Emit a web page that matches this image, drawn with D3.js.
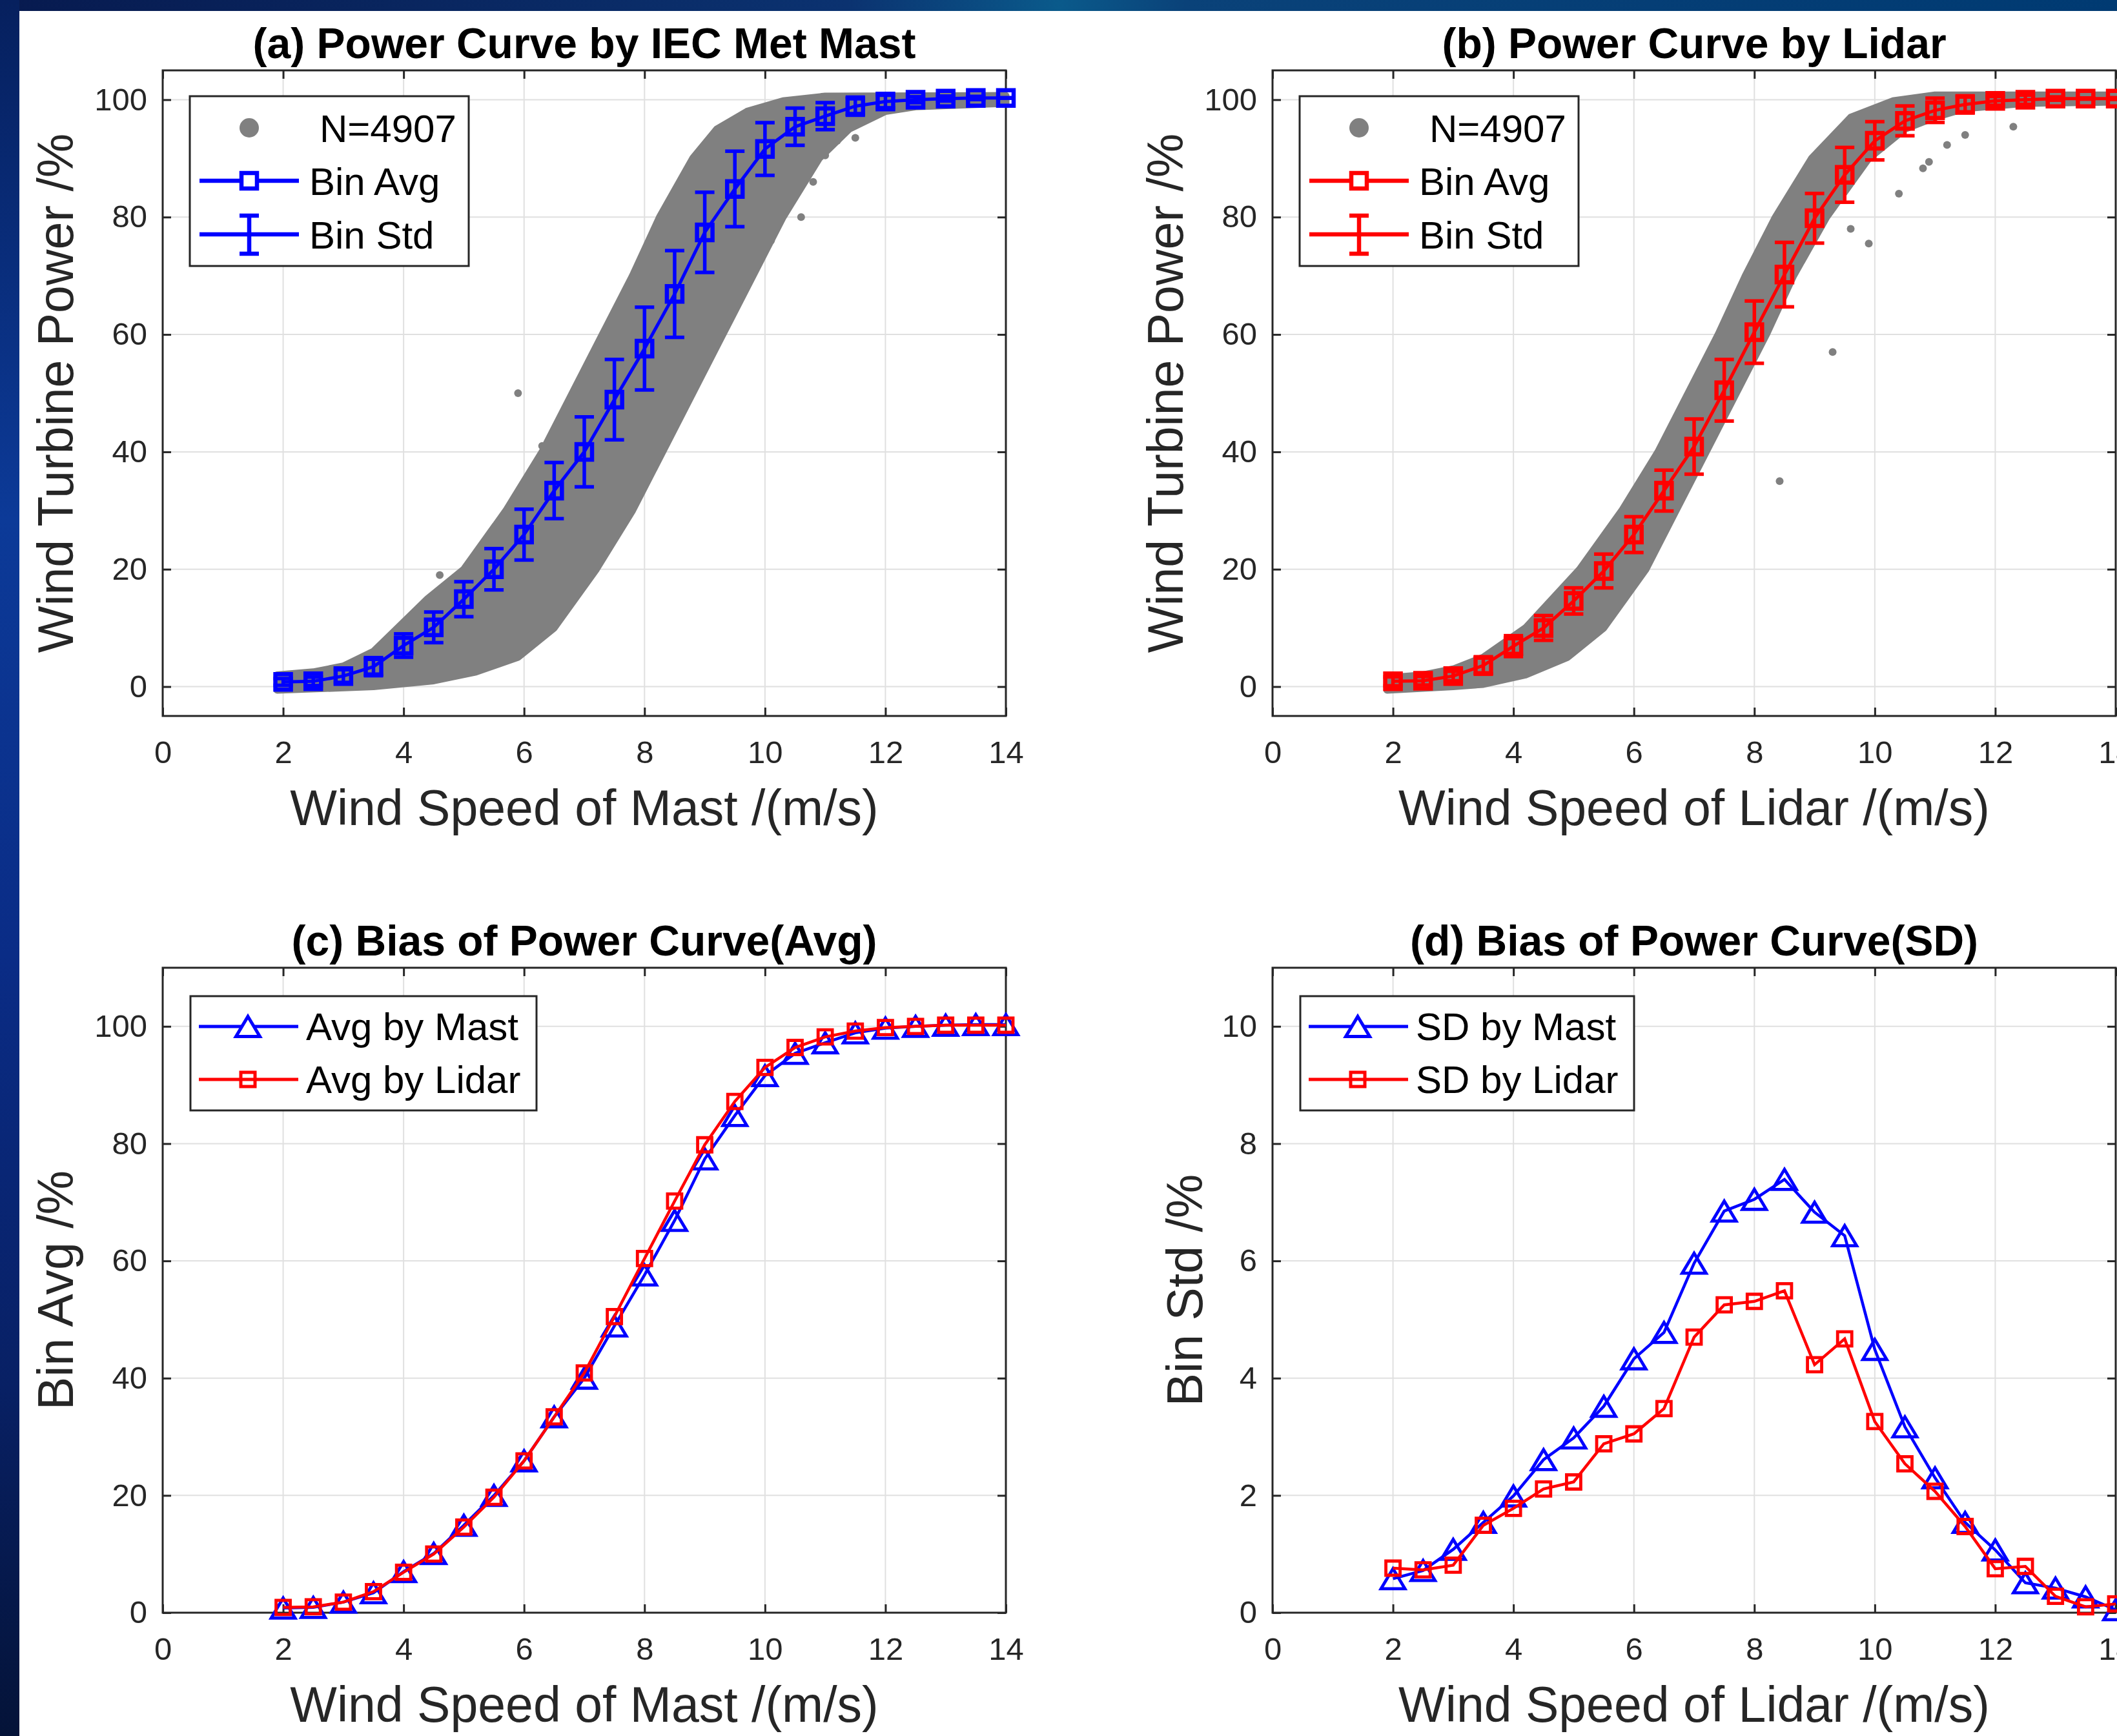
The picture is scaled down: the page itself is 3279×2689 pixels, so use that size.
<!DOCTYPE html>
<html><head><meta charset="utf-8">
<script src="https://cdn.jsdelivr.net/npm/d3@7"></script>
<style>
body{margin:0;background:#fff}
svg{display:block}
text{font-family:"Liberation Sans",Arial,Helvetica,sans-serif}
</style>
</head><body>
<svg id="chart" width="3279" height="2689"></svg>
<script>
// ---------------- DATA ----------------
const windSpeed = [2,2.5,3,3.5,4,4.5,5,5.5,6,6.5,7,7.5,8,8.5,9,9.5,10,10.5,11,11.5,12,12.5,13,13.5,14];
const avgMast  = [0.8,0.9,1.8,3.4,7.0,10.1,14.9,20.0,25.9,33.4,40.0,48.9,57.6,66.9,77.4,84.8,91.6,95.4,97.2,98.9,99.7,100.0,100.2,100.3,100.3];
const avgLidar = [0.9,1.0,1.8,3.6,6.9,10.0,14.6,19.7,25.9,33.4,40.9,50.5,60.4,70.2,79.8,87.2,93.0,96.4,98.2,99.2,99.8,100.0,100.2,100.2,100.2];
const stdMast  = [0.58,0.72,1.08,1.54,1.99,2.61,2.98,3.52,4.33,4.78,5.96,6.85,7.05,7.39,6.83,6.43,4.49,3.17,2.30,1.54,1.07,0.51,0.42,0.27,0.05];
const stdLidar = [0.76,0.73,0.81,1.49,1.78,2.11,2.23,2.88,3.05,3.48,4.70,5.25,5.31,5.49,4.23,4.67,3.26,2.54,2.07,1.47,0.75,0.79,0.28,0.10,0.15];

// outline of the dense scatter cloud (N=4907 samples): [wind speed, power]
const cloudMastEdge = [[1.9,-0.3],[1.9,2],[2.5,2.5],[3,3.5],[3.5,6],[3.9,10],[4.4,15],[5.0,20],[5.7,30],[6.3,40],[6.8,50],[7.3,60],[7.8,70],[8.25,80],[8.8,90],[9.2,95],[9.7,98],[10.3,99.8],[11,100.6],[14,100.7],
  [14,99.4],[12.5,98.8],[12,98],[11.4,95],[10.9,90],[10.3,80],[9.8,70],[9.3,60],[8.8,50],[8.3,40],[7.8,30],[7.2,20],[6.5,10],[5.9,5],[5.2,2.5],[4.5,1],[3.5,0],[1.9,-0.6]];
const cloudLidarEdge = [[1.9,-0.3],[1.9,1.5],[2.5,2],[3,3],[3.5,5],[4.2,10],[5.1,20],[5.8,30],[6.4,40],[6.9,50],[7.4,60],[7.85,70],[8.35,80],[8.95,90],[9.6,97],[10.3,99.8],[11,100.8],[14,100.8],
  [14,99.6],[12.5,99.4],[11.5,98.5],[11,97],[10.5,95],[9.9,90],[9.2,80],[8.65,70],[8.2,60],[7.7,50],[7.2,40],[6.7,30],[6.2,20],[5.5,10],[4.9,5],[4.2,2],[3.5,0.4],[3,0],[1.9,-0.6]];
const outliersMast  = [[5.9,50],[10.6,80],[10.3,84],[11.0,90.5],[11.2,93],[10.8,86],[4.6,19],[9.8,75],[6.3,41],[10.1,76],[11.5,93.5]];
const outliersLidar = [[8.42,35],[9.3,57],[9.9,75.5],[10.8,88.3],[10.9,89.4],[11.2,92.3],[11.5,94],[12.3,95.4],[10.4,84],[9.6,78]];

const xTicks = [0,2,4,6,8,10,12,14];
const yTicksPower = [0,20,40,60,80,100];
const yTicksStd = [0,2,4,6,8,10];
const sampleLabel = "N=4907";

// ---------------- SETUP ----------------
const W = 3279, H = 2689;
const svg = d3.select("#chart");
const defs = svg.append("defs");
const gTop = defs.append("linearGradient").attr("id","gTop").attr("x1",0).attr("x2",1).attr("y1",0).attr("y2",0);
[["0","#071a4f"],["0.4","#0b3270"],["0.5","#0a5a8b"],["0.56","#0a4279"],["1","#003a72"]].forEach(s=>gTop.append("stop").attr("offset",s[0]).attr("stop-color",s[1]));
const gLeft = defs.append("linearGradient").attr("id","gLeft").attr("x1",0).attr("x2",0).attr("y1",0).attr("y2",1);
[["0","#06205e"],["0.3","#0c3a98"],["0.55","#0a2c86"],["0.8","#082064"],["1","#041338"]].forEach(s=>gLeft.append("stop").attr("offset",s[0]).attr("stop-color",s[1]));
svg.append("rect").attr("x",0).attr("y",0).attr("width",W).attr("height",H).attr("fill","#fff");
svg.append("rect").attr("x",0).attr("y",0).attr("width",W).attr("height",17).attr("fill","url(#gTop)");
svg.append("rect").attr("x",0).attr("y",0).attr("width",30).attr("height",H).attr("fill","url(#gLeft)");

const BLUE = "#0000ff", RED = "#ff0000", GRAY = "#808080", AX = "#262626";
const FONT_TICK = 49, FONT_LABEL = 77, FONT_TITLE = 66, FONT_LEG = 60;

function square(s){ return `M${-s/2},${-s/2}H${s/2}V${s/2}H${-s/2}Z`; }
function triangle(w,h){ return `M0,${-h/2}L${w/2},${h/2}L${-w/2},${h/2}Z`; }

function makePanel(p){
  const x = d3.scaleLinear().domain([0,14]).range([p.left,p.right]);
  const y = d3.scaleLinear().domain(p.ydom).range([p.bottom,p.top]);
  const g = svg.append("g");
  g.append("g").selectAll("line").data(xTicks).join("line")
    .attr("x1",d=>x(d)).attr("x2",d=>x(d)).attr("y1",p.top).attr("y2",p.bottom)
    .attr("stroke","#e0e0e0").attr("stroke-width",2);
  g.append("g").selectAll("line").data(p.yticks).join("line")
    .attr("y1",d=>y(d)).attr("y2",d=>y(d)).attr("x1",p.left).attr("x2",p.right)
    .attr("stroke","#e0e0e0").attr("stroke-width",2);
  const styleAxis = sel => {
    sel.select(".domain").remove();
    sel.selectAll(".tick line").attr("stroke",AX).attr("stroke-width",3);
    sel.selectAll(".tick text").attr("fill",AX).attr("font-size",FONT_TICK).attr("font-family",'"Liberation Sans",Arial,sans-serif');
  };
  g.append("g").attr("transform",`translate(0,${p.bottom})`)
    .call(d3.axisBottom(x).tickValues(xTicks).tickSize(-13).tickSizeOuter(0).tickPadding(38)).call(styleAxis);
  g.append("g").attr("transform",`translate(0,${p.top})`)
    .call(d3.axisTop(x).tickValues(xTicks).tickSize(-13).tickSizeOuter(0).tickFormat("")).call(styleAxis);
  g.append("g").attr("transform",`translate(${p.left},0)`)
    .call(d3.axisLeft(y).tickValues(p.yticks).tickSize(-13).tickSizeOuter(0).tickPadding(24)).call(styleAxis);
  g.append("g").attr("transform",`translate(${p.right},0)`)
    .call(d3.axisRight(y).tickValues(p.yticks).tickSize(-13).tickSizeOuter(0).tickFormat("")).call(styleAxis);
  g.append("rect").attr("x",p.left).attr("y",p.top).attr("width",p.right-p.left).attr("height",p.bottom-p.top)
    .attr("fill","none").attr("stroke",AX).attr("stroke-width",3);
  const cx = (p.left+p.right)/2, cy = (p.top+p.bottom)/2;
  g.append("text").attr("x",cx).attr("y",p.top-19).attr("text-anchor","middle")
    .attr("font-size",FONT_TITLE).attr("font-weight","bold").attr("fill","#000").text(p.title);
  g.append("text").attr("x",cx).attr("y",p.bottom+169).attr("text-anchor","middle")
    .attr("font-size",FONT_LABEL).attr("fill",AX).text(p.xlabel);
  g.append("text").attr("transform",`translate(${p.ylabelX},${cy}) rotate(-90)`).attr("text-anchor","middle")
    .attr("font-size",FONT_LABEL).attr("fill",AX).text(p.ylabel);
  return {g,x,y};
}

function powerPanel(p, avg, sd, cloud, outliers, color){
  const {g,x,y} = makePanel(p);
  const data = windSpeed.map((w,i)=>({w, a:avg[i], s:sd[i]}));
  const cl = d3.line().x(d=>x(d[0])).y(d=>y(d[1]));
  g.append("path").attr("d", cl(cloud)+"Z").attr("fill",GRAY).attr("stroke",GRAY)
    .attr("stroke-width",11).attr("stroke-linejoin","round");
  g.append("g").selectAll("circle").data(outliers).join("circle")
    .attr("cx",d=>x(d[0])).attr("cy",d=>y(d[1])).attr("r",6).attr("fill",GRAY);
  const line = d3.line().x(d=>x(d.w)).y(d=>y(d.a));
  g.append("path").attr("d",line(data)).attr("fill","none").attr("stroke",color).attr("stroke-width",5);
  g.append("g").selectAll("path").data(data).join("path")
    .attr("transform",d=>`translate(${x(d.w)},${y(d.a)})`).attr("d",square(24))
    .attr("fill","none").attr("stroke",color).attr("stroke-width",6.5);
  const eb = g.append("g").attr("stroke",color).attr("stroke-width",5.5);
  eb.selectAll(".v").data(data).join("line").attr("x1",d=>x(d.w)).attr("x2",d=>x(d.w))
    .attr("y1",d=>y(d.a-d.s)).attr("y2",d=>y(d.a+d.s));
  eb.selectAll(".t").data(data).join("line").attr("x1",d=>x(d.w)-15).attr("x2",d=>x(d.w)+15)
    .attr("y1",d=>y(d.a+d.s)).attr("y2",d=>y(d.a+d.s));
  eb.selectAll(".b").data(data).join("line").attr("x1",d=>x(d.w)-15).attr("x2",d=>x(d.w)+15)
    .attr("y1",d=>y(d.a-d.s)).attr("y2",d=>y(d.a-d.s));
  const L = p.left + 42, T = 149;
  const lg = svg.append("g");
  lg.append("rect").attr("x",L).attr("y",T).attr("width",432).attr("height",263).attr("fill","#fff").attr("stroke",AX).attr("stroke-width",3);
  lg.append("circle").attr("cx",L+92).attr("cy",T+49).attr("r",15).attr("fill",GRAY);
  lg.append("text").attr("x",L+201).attr("y",T+71).attr("font-size",FONT_LEG).attr("fill","#000").text(sampleLabel);
  lg.append("line").attr("x1",L+15).attr("x2",L+169).attr("y1",T+131).attr("y2",T+131).attr("stroke",color).attr("stroke-width",6.5);
  lg.append("path").attr("transform",`translate(${L+92},${T+131})`).attr("d",square(24)).attr("fill","#fff").attr("stroke",color).attr("stroke-width",6.5);
  lg.append("text").attr("x",L+185).attr("y",T+153).attr("font-size",FONT_LEG).attr("fill","#000").text("Bin Avg");
  lg.append("line").attr("x1",L+15).attr("x2",L+169).attr("y1",T+214).attr("y2",T+214).attr("stroke",color).attr("stroke-width",6.5);
  lg.append("line").attr("x1",L+92).attr("x2",L+92).attr("y1",T+185).attr("y2",T+244).attr("stroke",color).attr("stroke-width",6.5);
  lg.append("line").attr("x1",L+77).attr("x2",L+107).attr("y1",T+185).attr("y2",T+185).attr("stroke",color).attr("stroke-width",6.5);
  lg.append("line").attr("x1",L+77).attr("x2",L+107).attr("y1",T+244).attr("y2",T+244).attr("stroke",color).attr("stroke-width",6.5);
  lg.append("text").attr("x",L+185).attr("y",T+236).attr("font-size",FONT_LEG).attr("fill","#000").text("Bin Std");
}

function biasPanel(p, mastVals, lidarVals, names, boxW){
  const {g,x,y} = makePanel(p);
  const series = [
    {vals:mastVals, color:BLUE, shape:triangle(37,31), name:names[0]},
    {vals:lidarVals, color:RED, shape:square(22), name:names[1]}
  ];
  series.forEach(s=>{
    const data = windSpeed.map((w,i)=>({w, v:s.vals[i]}));
    const line = d3.line().x(d=>x(d.w)).y(d=>y(d.v));
    g.append("path").attr("d",line(data)).attr("fill","none").attr("stroke",s.color).attr("stroke-width",4.5);
    g.append("g").selectAll("path").data(data).join("path")
      .attr("transform",d=>`translate(${x(d.w)},${y(d.v)})`).attr("d",s.shape)
      .attr("fill","none").attr("stroke",s.color).attr("stroke-width",4.8);
  });
  const L = p.left + 43, T = 1543;
  const lg = svg.append("g");
  lg.append("rect").attr("x",L).attr("y",T).attr("width",boxW).attr("height",177).attr("fill","#fff").attr("stroke",AX).attr("stroke-width",3);
  series.forEach((s,i)=>{
    const yy = T + 47 + i*82;
    lg.append("line").attr("x1",L+13).attr("x2",L+167).attr("y1",yy).attr("y2",yy).attr("stroke",s.color).attr("stroke-width",5);
    lg.append("path").attr("transform",`translate(${L+89},${yy})`).attr("d", i===0?triangle(37,31):square(22))
      .attr("fill", i===0 ? "#fff" : "none").attr("stroke",s.color).attr("stroke-width",5);
    lg.append("text").attr("x",L+179).attr("y",yy+21).attr("font-size",FONT_LEG).attr("fill","#000").text(s.name);
  });
}

powerPanel({left:252,right:1558,top:109,bottom:1109,ydom:[-5,105],yticks:yTicksPower,
  title:"(a) Power Curve by IEC Met Mast", xlabel:"Wind Speed of Mast /(m/s)", ylabel:"Wind Turbine Power /%", ylabelX:113},
  avgMast, stdMast, cloudMastEdge, outliersMast, BLUE);
powerPanel({left:1971,right:3277,top:109,bottom:1109,ydom:[-5,105],yticks:yTicksPower,
  title:"(b) Power Curve by Lidar", xlabel:"Wind Speed of Lidar /(m/s)", ylabel:"Wind Turbine Power /%", ylabelX:1832},
  avgLidar, stdLidar, cloudLidarEdge, outliersLidar, RED);
biasPanel({left:252,right:1558,top:1499,bottom:2498,ydom:[0,110],yticks:yTicksPower,
  title:"(c) Bias of Power Curve(Avg)", xlabel:"Wind Speed of Mast /(m/s)", ylabel:"Bin Avg /%", ylabelX:113},
  avgMast, avgLidar, ["Avg by Mast","Avg by Lidar"], 536);
biasPanel({left:1971,right:3277,top:1499,bottom:2498,ydom:[0,11],yticks:yTicksStd,
  title:"(d) Bias of Power Curve(SD)", xlabel:"Wind Speed of Lidar /(m/s)", ylabel:"Bin Std /%", ylabelX:1862},
  stdMast, stdLidar, ["SD by Mast","SD by Lidar"], 517);
</script>
</body></html>
